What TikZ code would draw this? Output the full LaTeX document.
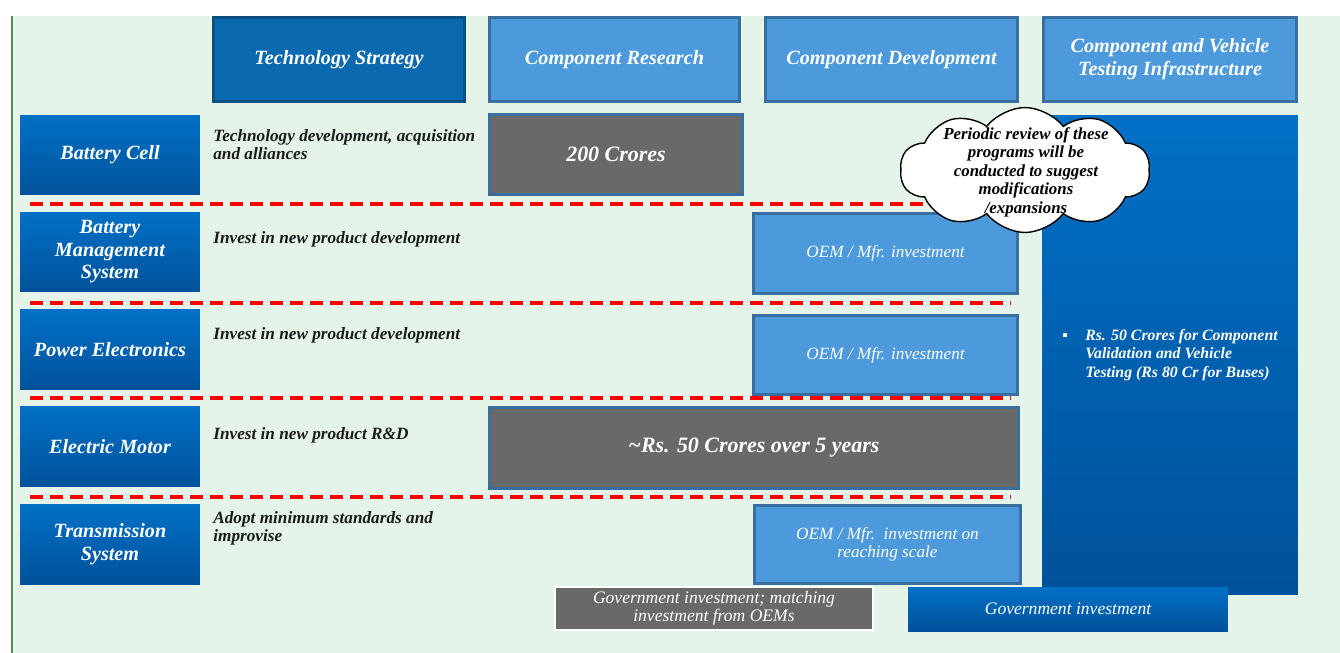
\documentclass[tikz,border=0pt]{standalone}
\usepackage{fontspec}
\setmainfont{Liberation Serif}
\usetikzlibrary{shapes.symbols}
\definecolor{bggreen}{HTML}{E4F4E8}
\definecolor{edgegreen}{HTML}{5A8A5E}
\definecolor{darkfill}{HTML}{0B69AF}
\definecolor{darkline}{HTML}{0A4E82}
\definecolor{lightfill}{HTML}{4C9ADB}
\definecolor{lightline}{HTML}{3A6E9F}
\definecolor{gradtop}{HTML}{0070C6}
\definecolor{gradbot}{HTML}{00529A}
\definecolor{cellgray}{HTML}{696969}
\definecolor{inktext}{HTML}{1A1A1A}

\begin{document}
\begin{tikzpicture}[x=0.02cm,y=-0.02cm,
  hdrdark/.style={draw=darkline,fill=darkfill,line width=1.7pt,text=white,
    font=\bfseries\itshape\fontsize{11.5}{13}\selectfont,align=center,inner sep=0pt},
  hdrlight/.style={hdrdark,draw=lightline,fill=lightfill},
  rowbox/.style={top color=gradtop,bottom color=gradbot,text=white,
    font=\bfseries\itshape\fontsize{11.5}{12.8}\selectfont,align=center,inner sep=0pt,
    minimum width=3.6cm,minimum height=1.6cm},
  desc/.style={anchor=north west,inner sep=0pt,align=left,text=inktext,
    font=\bfseries\itshape\fontsize{9.8}{10.3}\selectfont},
  graycell/.style={draw=lightline,fill=cellgray,line width=1.7pt,text=white,
    font=\bfseries\itshape\fontsize{12.5}{14}\selectfont,inner sep=0pt},
  oembox/.style={draw=lightline,fill=lightfill,line width=1.7pt,text=white,
    font=\itshape\fontsize{9.8}{10.3}\selectfont,align=center,inner sep=0pt},
  reddash/.style={red,line width=1.9pt,dash pattern=on 0.26cm off 0.14cm}]
\useasboundingbox (0,0) rectangle (1340,653);
\fill[bggreen] (12,16) rectangle (1340,653);
\draw[edgegreen,line width=1.2pt] (12,16) -- (12,653);

% column headings
\node[hdrdark,minimum width=5.02cm,minimum height=1.68cm] (strategy) at (339,59.5) {Technology Strategy};
\node[hdrlight,minimum width=5.0cm,minimum height=1.68cm] (research) at (614.5,59.5) {Component Research};
\node[hdrlight,minimum width=5.04cm,minimum height=1.68cm] (develop) at (891.5,59.5) {Component Development};
\node[hdrlight,minimum width=5.06cm,minimum height=1.68cm] (testing) at (1170,59.5) {Component and Vehicle\\Testing Infrastructure};

% row headings
\node[rowbox] (cell) at (110,155) {Battery Cell};
\node[rowbox] (bms) at (110,252) {Battery\\Management\\System};
\node[rowbox] (power) at (110,349.5) {Power Electronics};
\node[rowbox] (motor) at (110,446.5) {Electric Motor};
\node[rowbox] (trans) at (110,544) {Transmission\\System};

% strategy texts
\node[desc] (cellstrat) at (213,129) {Technology development, acquisition\\and alliances};
\node[desc] (bmsstrat) at (213,231) {Invest in new product development};
\node[desc] (powerstrat) at (213,327) {Invest in new product development};
\node[desc] (motorstrat) at (213,427) {Invest in new product R\&D};
\node[desc] (transstrat) at (213,511) {Adopt minimum standards and\\improvise};

% separators
\draw[reddash] (30,204) -- (1040,204);
\draw[reddash] (30,303) -- (1010,303);
\draw[reddash] (30,398) -- (1010,398);
\draw[reddash] (30,497) -- (1010,497);

% investments
\node[graycell,minimum width=5.06cm,minimum height=1.6cm] (crores) at (616,154.5) {200 Crores};
\node[oembox,minimum width=5.28cm,minimum height=1.6cm] (oembms) at (885.5,253.5) {OEM / Mfr. investment};
\node[oembox,minimum width=5.28cm,minimum height=1.58cm] (oempower) at (885.5,355) {OEM / Mfr. investment};
\node[graycell,minimum width=10.58cm,minimum height=1.62cm] (motorfund) at (754,448) {\textasciitilde Rs. 50 Crores over 5 years};
\node[oembox,minimum width=5.32cm,minimum height=1.56cm] (oemtrans) at (887.5,544.5) {OEM / Mfr.\ \ investment on\\reaching scale};

\node[top color=gradtop,bottom color=gradbot,text=white,inner sep=0pt,
  minimum width=5.12cm,minimum height=9.6cm,
  font=\bfseries\itshape\fontsize{9}{10.5}\selectfont] (testfund) at (1170,355)
  {\begin{tabular}{@{}p{0.46cm}@{}l@{}}▪ & Rs. 50 Crores for Component\\ & Validation and Vehicle\\ & Testing (Rs 80 Cr for Buses)\end{tabular}};

% review cloud
\node[cloud,cloud puffs=10,cloud puff arc=105,cloud ignores aspect,draw=black,fill=white,line width=0.8pt,
  minimum width=5.0cm,minimum height=2.5cm,inner sep=0pt] (review) at (1025,170) {};
\node[inner sep=0pt,align=center,text=black,font=\bfseries\itshape\fontsize{9.6}{10.5}\selectfont]
  (reviewtxt) at (1026,172) {Periodic review of these\\programs will be\\conducted to suggest\\modifications\\/expansions};

% funding notes
\node[draw=white,fill=cellgray,line width=0.8pt,text=white,align=center,inner sep=0pt,
  minimum width=6.36cm,minimum height=0.86cm,font=\itshape\fontsize{10}{10.3}\selectfont]
  (govmatch) at (714,608.5) {Government investment; matching\\investment from OEMs};
\node[top color=gradtop,bottom color=gradbot,text=white,inner sep=0pt,
  minimum width=6.4cm,minimum height=0.88cm,font=\itshape\fontsize{10}{11}\selectfont]
  (govinv) at (1068,609) {Government investment};
\end{tikzpicture}
\end{document}
